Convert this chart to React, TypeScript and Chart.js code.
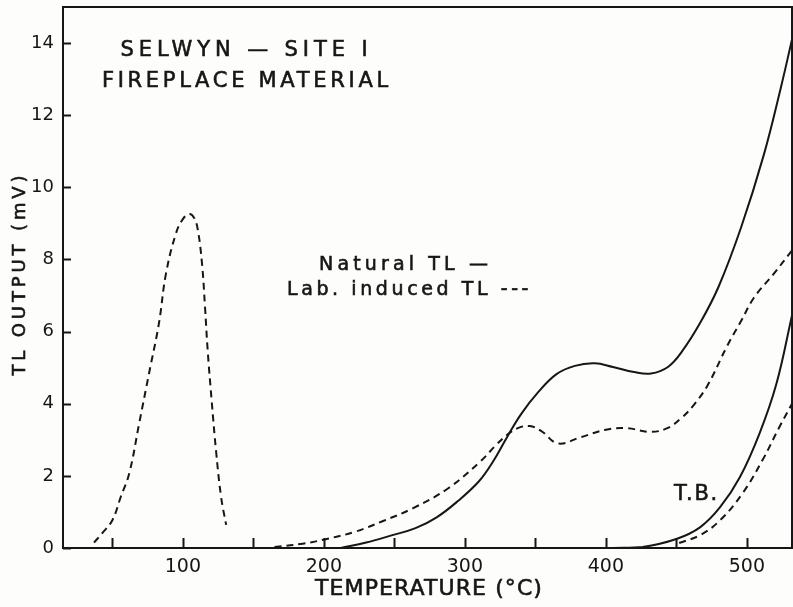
import React, { useEffect, useRef } from "react";
import { Chart, registerables } from "chart.js";

Chart.register(...registerables);

// ---- axis ranges & ticks ----
const X_MIN = 15;
const X_MAX = 532;
const Y_MIN = 0;
const Y_MAX = 15;
const X_TICKS = [50, 100, 150, 200, 250, 300, 350, 400, 450, 500];
const X_LABELLED = [100, 200, 300, 400, 500];
const Y_TICKS = [0, 2, 4, 6, 8, 10, 12, 14];

const X_TITLE = "TEMPERATURE (°C)";
const Y_TITLE = "TL OUTPUT (mV)";

// ---- series: lab-induced low-temperature peak (dashed) ----
const LAB_LOW_T = [37, 43, 50, 56, 62, 69, 76, 83, 88, 95, 100, 104.6, 108, 110.5, 113.6, 115.7, 117.6, 120.4, 123.5, 127.1, 130.7];
const LAB_LOW_TL = [0.15, 0.42, 0.77, 1.42, 2.07, 3.45, 4.84, 6.22, 7.6, 8.71, 9.12, 9.26, 9.15, 8.85, 7.88, 6.69, 5.48, 4.1, 2.71, 1.42, 0.64];

// ---- natural TL (solid) ----
const NATURAL_T = [212, 230, 248, 265, 280, 295, 310, 320, 330, 340, 352, 365, 378, 392, 405, 420, 432, 444, 454, 467, 480, 496, 512, 524, 532];
const NATURAL_TL = [0, 0.15, 0.35, 0.55, 0.85, 1.3, 1.85, 2.4, 3.08, 3.72, 4.32, 4.82, 5.05, 5.12, 5.02, 4.88, 4.84, 5.02, 5.45, 6.25, 7.25, 8.9, 10.9, 12.75, 14.1];

// ---- lab induced TL (dashed) ----
const LAB_T = [165, 185, 202, 222, 242, 263, 288, 311, 322, 330, 338, 346, 354, 366, 382, 400, 415, 432, 444, 454, 462, 472, 486, 496, 505, 519, 532];
const LAB_TL = [0.03, 0.12, 0.25, 0.45, 0.75, 1.1, 1.65, 2.4, 2.85, 3.14, 3.33, 3.38, 3.25, 2.9, 3.07, 3.28, 3.32, 3.22, 3.33, 3.62, 3.95, 4.5, 5.6, 6.3, 6.94, 7.6, 8.25];

// ---- T.B. (background) natural (solid) and lab (dashed) ----
const TB_NAT_T = [405, 426, 450, 467, 481, 495, 509, 521, 532];
const TB_NAT_TL = [0, 0.03, 0.25, 0.58, 1.13, 1.96, 3.18, 4.56, 6.45];
const TB_LAB_T = [452, 467, 481, 497, 511, 523, 532];
const TB_LAB_TL = [0.14, 0.36, 0.77, 1.52, 2.43, 3.35, 4.0];

// ---- annotations (text anchored in data coordinates) ----
const NOTE_TEXTS = ["SELWYN — SITE I", "FIREPLACE MATERIAL", "Natural TL —", "Lab. induced TL ---", "T.B."];
const NOTE_T = [143.4, 144.1, 256.5, 259.5, 463.6];
const NOTE_TL = [13.78, 12.92, 7.85, 7.15, 1.47];

// ---- styles ----
const INK = "#161616";
const PAPER = "#fdfdfb";
const FONT = "'DejaVu Sans', sans-serif";
const NOTE_SIZES = [21, 21, 19, 19, 21];
const NOTE_WIDTHS = [252, 290, 173, 245, 45];
const DASH = [7, 5];

function pts(xs: number[], ys: number[]) {
  return xs.map((x, i) => ({ x, y: ys[i] }));
}

function fitText(ctx: CanvasRenderingContext2D, text: string, x: number, y: number, size: number, width: number) {
  ctx.font = `${size}px ${FONT}`;
  (ctx as any).letterSpacing = "0px";
  const w = ctx.measureText(text).width;
  const ls = Math.max(0, (width - w) / text.length);
  (ctx as any).letterSpacing = `${ls}px`;
  ctx.fillText(text, x + ls / 2, y);
  ctx.lineWidth = 0.6;
  ctx.strokeStyle = INK;
  ctx.strokeText(text, x + ls / 2, y);
  (ctx as any).letterSpacing = "0px";
}

const framePlugin = {
  id: "frame",
  beforeDraw(chart: any) {
    const { ctx, width, height } = chart;
    ctx.save();
    ctx.fillStyle = PAPER;
    ctx.fillRect(0, 0, width, height);
    ctx.restore();
  },
  afterDraw(chart: any) {
    const { ctx, chartArea } = chart;
    const xs = chart.scales.x;
    const ys = chart.scales.y;
    ctx.save();
    ctx.strokeStyle = INK;
    ctx.lineWidth = 2;
    ctx.strokeRect(chartArea.left, chartArea.top, chartArea.right - chartArea.left, chartArea.bottom - chartArea.top);
    // inward tick marks
    ctx.beginPath();
    X_TICKS.forEach((v) => {
      const px = Math.round(xs.getPixelForValue(v)) + 0.5;
      ctx.moveTo(px, chartArea.bottom);
      ctx.lineTo(px, chartArea.bottom - 10);
    });
    Y_TICKS.forEach((v) => {
      const py = Math.round(ys.getPixelForValue(v)) + 0.5;
      ctx.moveTo(chartArea.left, py);
      ctx.lineTo(chartArea.left + 8, py);
    });
    ctx.stroke();

    ctx.fillStyle = INK;
    ctx.textAlign = "center";
    ctx.textBaseline = "middle";
    // annotations
    NOTE_TEXTS.forEach((t, i) => {
      fitText(ctx, t, xs.getPixelForValue(NOTE_T[i]), ys.getPixelForValue(NOTE_TL[i]), NOTE_SIZES[i], NOTE_WIDTHS[i]);
    });
    // axis titles
    fitText(ctx, X_TITLE, (chartArea.left + chartArea.right) / 2 + 1, chartArea.bottom + 41, 22, 228);
    ctx.translate(20, (chartArea.top + chartArea.bottom) / 2 - 2);
    ctx.rotate(-Math.PI / 2);
    fitText(ctx, Y_TITLE, 0, 0, 18, 204);
    ctx.restore();
  },
};

export default function App() {
  const ref = useRef<HTMLCanvasElement | null>(null);

  useEffect(() => {
    if (!ref.current) return;
    const line = (xs: number[], ys: number[], dashed: boolean, label: string) => ({
      label,
      data: pts(xs, ys),
      borderColor: INK,
      borderWidth: 2,
      borderDash: dashed ? DASH : [],
      pointRadius: 0,
      fill: false,
      tension: 0.4,
    });
    const chart = new Chart(ref.current, {
      type: "line",
      data: {
        datasets: [
          line(LAB_LOW_T, LAB_LOW_TL, true, "Lab. induced TL (low)"),
          line(NATURAL_T, NATURAL_TL, false, "Natural TL"),
          line(LAB_T, LAB_TL, true, "Lab. induced TL"),
          line(TB_NAT_T, TB_NAT_TL, false, "T.B. natural"),
          line(TB_LAB_T, TB_LAB_TL, true, "T.B. lab"),
        ],
      },
      options: {
        responsive: false,
        animation: false,
        layout: { padding: { top: 7, right: 1, left: 0, bottom: 0 } },
        plugins: { legend: { display: false }, tooltip: { enabled: false }, title: { display: false } },
        scales: {
          x: {
            type: "linear",
            min: X_MIN,
            max: X_MAX,
            grid: { display: false, drawTicks: false },
            border: { display: false },
            ticks: {
              color: INK,
              font: { family: FONT, size: 19 },
              padding: 8,
              maxRotation: 0,
              autoSkip: false,
              callback: (v: any) => (X_LABELLED.includes(Number(v)) ? String(v) : ""),
            },
            afterBuildTicks: (s: any) => {
              s.ticks = X_TICKS.map((v) => ({ value: v }));
            },
            afterFit: (s: any) => {
              s.height = 59;
              s.paddingLeft = 0;
              s.paddingRight = 0;
            },
          },
          y: {
            type: "linear",
            min: Y_MIN,
            max: Y_MAX,
            grid: { display: false, drawTicks: false },
            border: { display: false },
            ticks: {
              color: INK,
              font: { family: FONT, size: 18 },
              padding: 9,
              autoSkip: false,
            },
            afterBuildTicks: (s: any) => {
              s.ticks = Y_TICKS.map((v) => ({ value: v }));
            },
            afterFit: (s: any) => {
              s.width = 63;
              s.paddingTop = 0;
              s.paddingBottom = 0;
            },
          },
        },
      } as any,
      plugins: [framePlugin],
    });
    return () => chart.destroy();
  }, []);

  return (
    <div style={{ position: "absolute", left: 0, top: 0, width: 793, height: 607, background: PAPER }}>
      <canvas ref={ref} width={793} height={607} style={{ display: "block" }} />
    </div>
  );
}
